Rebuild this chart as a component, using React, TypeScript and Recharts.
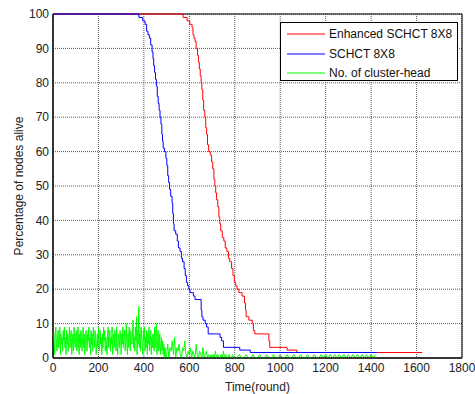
import React from 'react';
import { LineChart, Line, XAxis, YAxis, CartesianGrid, Legend, ReferenceArea } from 'recharts';

const xTicks = [0, 200, 400, 600, 800, 1000, 1200, 1400, 1600, 1800];
const yTicks = [0, 10, 20, 30, 40, 50, 60, 70, 80, 90, 100];

// Enhanced SCHCT 8X8 (red)
const enhancedRounds = [0, 572, 590, 602, 612, 616, 620, 625, 630, 636, 640, 644, 648, 652, 655, 659, 663, 668, 672, 676, 680, 685, 692, 698, 703, 708, 712, 716, 720, 725, 730, 734, 738, 745, 752, 758, 765, 772, 778, 786, 792, 798, 804, 810, 818, 832, 843, 847, 850, 862, 877, 882, 888, 950, 954, 1030, 1073, 1625];
const enhancedAlive = [100, 99, 98, 97, 96, 94, 93, 92, 90, 88, 86, 84, 82, 80, 78, 75, 72, 70, 67, 65, 62, 60, 59, 57, 55, 52, 50, 48, 46, 44, 41, 39, 37, 35, 34, 32, 31, 29, 28, 26, 24, 22, 21, 20, 19, 18, 16, 14, 12, 11, 10, 8, 7, 5, 3.1, 2.3, 1.6, 1.6];

// SCHCT 8X8 (blue)
const schctRounds = [0, 378, 395, 405, 412, 418, 424, 430, 436, 440, 443, 447, 451, 455, 459, 463, 467, 471, 475, 479, 482, 485, 491, 497, 501, 505, 509, 513, 518, 524, 527, 530, 533, 540, 547, 552, 559, 565, 570, 577, 582, 587, 592, 598, 603, 618, 625, 652, 655, 660, 670, 676, 683, 735, 742, 750, 822, 868, 1425];
const schctAlive = [100, 99, 98, 97, 95, 94, 93, 91, 89, 87, 85, 83, 81, 79, 76, 74, 72, 70, 68, 65, 63, 61, 60, 58, 56, 53, 51, 49, 47, 45, 42, 39, 37, 36, 34, 32, 31, 29, 28, 26, 24, 22, 21, 20, 19, 18, 17, 14, 12, 11, 10, 9, 7, 6, 5, 3.1, 2.3, 1.6, 1.6];

// No. of cluster-head (green): every 2.5 rounds from 0 to 497.5
const chEarly = [
  3, 8, 5, 1, 7, 9, 4, 2, 6, 8, 3, 5, 9, 1, 7, 4, 6, 2, 8, 5,
  9, 3, 6, 1, 8, 4, 7, 2, 5, 9, 3, 6, 8, 1, 4, 7, 2, 9, 5, 3,
  6, 8, 2, 5, 9, 4, 1, 7, 3, 8, 6, 2, 5, 9, 3, 7, 1, 4, 8, 6,
  2, 7, 5, 9, 3, 6, 1, 8, 4, 7, 2, 9, 5, 3, 8, 6, 1, 4, 7, 3,
  9, 5, 2, 8, 4, 6, 1, 7, 3, 9, 5, 8, 2, 6, 4, 1, 7, 9, 3, 5,
  8, 2, 6, 4, 9, 1, 5, 7, 3, 8, 6, 2, 9, 4, 1, 7, 5, 3, 8, 6,
  1, 7, 4, 9, 3, 6, 8, 2, 5, 10, 4, 1, 7, 3, 9, 6, 2, 8, 5, 4,
  7, 11, 3, 6, 2, 9, 5, 12, 1, 8, 4, 15, 3, 7, 2, 9, 6, 4, 1, 8,
  5, 9, 2, 6, 3, 8, 1, 7, 4, 9, 2, 5, 8, 1, 6, 3, 7, 4, 2, 9,
  3, 6, 10, 1, 5, 8, 2, 4, 7, 1, 3, 6, 2, 5, 1, 4, 0, 3, 1, 0,
];
// every 5 rounds from 500 to 795
const chMid = [
  1, 4, 0, 3, 2, 5, 1, 6, 0, 3, 2, 4, 1, 0, 3, 2, 5, 1, 0, 2,
  1, 3, 0, 2, 1, 0, 4, 1, 0, 2, 1, 0, 3, 0, 1, 2, 0, 1, 0, 1,
  0, 1, 0, 2, 0, 1, 0, 0, 1, 0, 2, 0, 1, 0, 0, 1, 0, 0, 1, 0,
];
// every 10 rounds from 800 to 1420
const chLate = [
  0, 0, 1, 0, 0, 1, 0, 0, 1, 0, 0, 1, 0, 0, 1, 0, 0, 1, 0, 0,
  1, 0, 0, 1, 0, 0, 1, 0, 0, 1, 0, 0, 1, 0, 0, 1, 0, 0, 1, 0,
  1, 0, 1, 0, 1, 0, 1, 0, 1, 0, 1, 0, 1, 0, 1, 0, 1, 0, 1, 0,
  1, 0, 1,
];

const enhancedData = enhancedRounds.map((r, i) => ({ round: r, alive: enhancedAlive[i] }));
const schctData = schctRounds.map((r, i) => ({ round: r, alive: schctAlive[i] }));
const chData = [
  ...chEarly.map((v, i) => ({ round: i * 2.5, alive: v })),
  ...chMid.map((v, i) => ({ round: 500 + i * 5, alive: v })),
  ...chLate.map((v, i) => ({ round: 800 + i * 10, alive: v })),
];

const legendItems = [
  { name: 'Enhanced SCHCT 8X8', color: '#ff0000' },
  { name: 'SCHCT 8X8', color: '#0000ff' },
  { name: 'No. of cluster-head', color: '#00ff00' },
];

const font = '"Liberation Sans", Arial, sans-serif';

const renderLegend = () => (
  <div style={{ position: 'relative', width: 176, height: 57, border: '1px solid #000', background: '#fff', fontFamily: font, fontSize: 12, color: '#111' }}>
    {legendItems.map((item, i) => (
      <div key={item.name} style={{ position: 'absolute', left: 0, top: [1, 21, 40][i], height: 20, display: 'flex', alignItems: 'center', whiteSpace: 'nowrap' }}>
        <svg width={48} height={4} style={{ display: 'block' }}>
          <line x1={6} x2={44} y1={2} y2={2} stroke={item.color} strokeWidth={1} />
        </svg>
        <span>{item.name}</span>
      </div>
    ))}
  </div>
);

export default function App() {
  return (
    <div style={{ position: 'absolute', left: 0, top: 0, width: 475, height: 394, background: '#fff', fontFamily: font }}>
      <LineChart width={475} height={394} margin={{ top: 14, right: 13, left: 0, bottom: 0 }}>
        <CartesianGrid stroke="#5a5a5a" strokeDasharray="1 1" />
        <XAxis
          type="number"
          dataKey="round"
          domain={[0, 1800]}
          ticks={xTicks}
          allowDataOverflow
          height={36}
          tickLine={false}
          tickSize={5}
          tickMargin={0}
          axisLine={{ stroke: '#000' }}
          tick={{ fill: '#222', fontSize: 12, fontFamily: font }}
          label={{ value: 'Time(round)', position: 'insideBottom', offset: 3, fill: '#222', fontSize: 12, fontFamily: font }}
        />
        <YAxis
          type="number"
          domain={[0, 100]}
          ticks={yTicks}
          width={53}
          tickLine={false}
          tickSize={4}
          tickMargin={0}
          axisLine={{ stroke: '#000' }}
          tick={{ fill: '#222', fontSize: 12, fontFamily: font }}
          label={{ value: 'Percentage of nodes alive', angle: -90, position: 'insideLeft', offset: 19, fill: '#222', fontSize: 12, fontFamily: font, style: { textAnchor: 'middle' } }}
        />
        <Line data={enhancedData} dataKey="alive" name="Enhanced SCHCT 8X8" type="stepAfter" stroke="#ff0000" strokeWidth={1} dot={false} isAnimationActive={false} />
        <Line data={schctData} dataKey="alive" name="SCHCT 8X8" type="stepAfter" stroke="#0000ff" strokeWidth={1} dot={false} isAnimationActive={false} />
        <Line data={chData} dataKey="alive" name="No. of cluster-head" type="linear" stroke="#00ff00" strokeWidth={1} dot={false} isAnimationActive={false} />
        <ReferenceArea x1={0} x2={1800} y1={0} y2={100} fill="none" stroke="#000" strokeWidth={1} ifOverflow="visible" />
        <Legend
          layout="horizontal"
          verticalAlign="middle"
          align="center"
          content={renderLegend}
          wrapperStyle={{ left: 280, top: 22, width: 178, height: 59 }}
        />
      </LineChart>
    </div>
  );
}
